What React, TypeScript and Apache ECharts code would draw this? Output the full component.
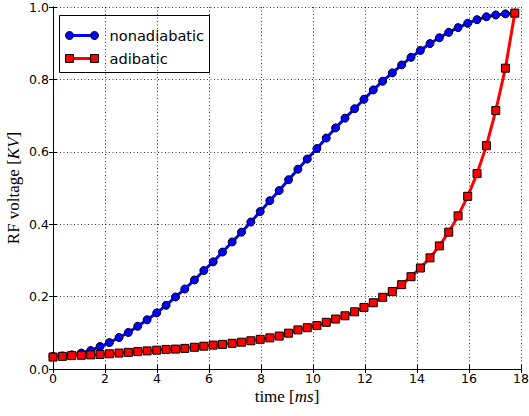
import React, { useEffect, useRef } from "react";
import * as echarts from "echarts";

const time = [
  0, 0.36, 0.72, 1.09, 1.45, 1.81, 2.17, 2.54, 2.9, 3.26,
  3.62, 3.99, 4.35, 4.71, 5.07, 5.44, 5.8, 6.16, 6.52, 6.89,
  7.25, 7.61, 7.97, 8.34, 8.7, 9.06, 9.42, 9.78, 10.15, 10.51,
  10.87, 11.23, 11.6, 11.96, 12.32, 12.68, 13.05, 13.41, 13.77, 14.13,
  14.5, 14.86, 15.22, 15.58, 15.95, 16.31, 16.67, 17.03, 17.4, 17.76,
];

const nonadiabatic = [
  0.035, 0.036, 0.039, 0.044, 0.051, 0.062, 0.073, 0.087, 0.101, 0.118,
  0.136, 0.155, 0.176, 0.199, 0.221, 0.246, 0.272, 0.296, 0.323, 0.351,
  0.378, 0.406, 0.435, 0.465, 0.493, 0.523, 0.552, 0.58, 0.609, 0.638,
  0.666, 0.693, 0.719, 0.745, 0.771, 0.795, 0.818, 0.84, 0.861, 0.88,
  0.899, 0.915, 0.93, 0.943, 0.955, 0.965, 0.973, 0.978, 0.981, 0.983,
];

const adibatic = [
  0.033, 0.035, 0.037, 0.038, 0.039, 0.04, 0.042, 0.044, 0.046, 0.048,
  0.05, 0.052, 0.054, 0.055, 0.057, 0.06, 0.063, 0.066, 0.068, 0.071,
  0.074, 0.078, 0.082, 0.086, 0.091, 0.099, 0.108, 0.114, 0.12, 0.129,
  0.138, 0.147, 0.158, 0.17, 0.183, 0.198, 0.214, 0.233, 0.255, 0.279,
  0.307, 0.34, 0.378, 0.423, 0.477, 0.54, 0.617, 0.714, 0.831, 0.983,
];

const seriesNames = ["nonadiabatic", "adibatic"];

const SANS = "DejaVu Sans";
const SERIF = "Liberation Serif";

export default function App() {
  const ref = useRef<HTMLDivElement>(null);

  useEffect(() => {
    if (!ref.current) return;
    const chart = echarts.init(ref.current, undefined, { renderer: "svg" });

    const axisLine = { show: true, lineStyle: { color: "#000", width: 1 } };
    const tick = { show: true, inside: true, length: 4, lineStyle: { color: "#000", width: 1 } };
    const split = { show: true, lineStyle: { color: "#000", width: 0.8, type: [1, 2.5] as any } };
    const labelStyle = { color: "#000", fontFamily: SANS, fontSize: 12.5 };
    const nameRich = {
      r: { fontFamily: SERIF, fontSize: 17, color: "#000" },
      i: { fontFamily: SERIF, fontSize: 17, fontStyle: "italic", color: "#000" },
    };

    const nonData = time.map((t, i) => [t, nonadiabatic[i]]);
    const adiData = time.map((t, i) => [t, adibatic[i]]);

    chart.setOption({
      animation: false,
      backgroundColor: "#fff",
      grid: { left: 53, right: 8, top: 7, bottom: 47, containLabel: false, outerBoundsMode: "none" },
      xAxis: [
        {
          type: "value",
          min: 0,
          max: 18,
          interval: 2,
          axisLine,
          axisTick: tick,
          splitLine: split,
          axisLabel: { ...labelStyle, margin: 3 },
          name: "{r|time [}{i|ms}{r|]}",
          nameLocation: "middle",
          nameGap: 19,
          nameMoveOverlap: false,
          nameTextStyle: { verticalAlign: "top", rich: nameRich },
        },
        {
          type: "value",
          position: "top",
          min: 0,
          max: 18,
          interval: 2,
          axisLine,
          axisTick: tick,
          splitLine: { show: false },
          axisLabel: { show: false },
        },
      ],
      yAxis: [
        {
          type: "value",
          min: 0,
          max: 1,
          interval: 0.2,
          axisLine,
          axisTick: tick,
          splitLine: split,
          axisLabel: { ...labelStyle, margin: 4, formatter: (v: number) => v.toFixed(1) },
          name: "{r|RF voltage [}{i|KV}{r|]}",
          nameLocation: "middle",
          nameRotate: 90,
          nameGap: 31,
          nameMoveOverlap: false,
          nameTextStyle: { rich: nameRich },
        },
        {
          type: "value",
          position: "right",
          min: 0,
          max: 1,
          interval: 0.2,
          axisLine,
          axisTick: tick,
          splitLine: { show: false },
          axisLabel: { show: false },
        },
      ],
      series: [
        {
          name: seriesNames[0],
          type: "line",
          data: nonData,
          symbol: "circle",
          symbolSize: 8,
          lineStyle: { color: "#0000ff", width: 3 },
          itemStyle: { color: "#0000ff", borderColor: "#000", borderWidth: 1 },
          z: 2,
        },
        {
          name: seriesNames[1],
          type: "line",
          data: adiData,
          symbol: "rect",
          symbolSize: 8,
          lineStyle: { color: "#ff0000", width: 3 },
          itemStyle: { color: "#ff0000", borderColor: "#000", borderWidth: 1 },
          z: 3,
        },
      ],
      graphic: [
        {
          type: "group",
          left: 59,
          top: 15,
          z: 100,
          children: [
            {
              type: "rect",
              shape: { x: 0, y: 0, width: 150, height: 57 },
              style: { fill: "#fff", stroke: "#000", lineWidth: 1 },
            },
            {
              type: "line",
              shape: { x1: 10, y1: 20, x2: 35, y2: 20 },
              style: { stroke: "#0000ff", lineWidth: 3 },
            },
            { type: "circle", shape: { cx: 10, cy: 20, r: 4 }, style: { fill: "#0000ff", stroke: "#000", lineWidth: 1 } },
            { type: "circle", shape: { cx: 35, cy: 20, r: 4 }, style: { fill: "#0000ff", stroke: "#000", lineWidth: 1 } },
            {
              type: "text",
              x: 50,
              y: 20,
              style: { text: seriesNames[0], fontFamily: SANS, fontSize: 14.6, fill: "#000", verticalAlign: "middle" },
            },
            {
              type: "line",
              shape: { x1: 10, y1: 43, x2: 35, y2: 43 },
              style: { stroke: "#ff0000", lineWidth: 3 },
            },
            { type: "rect", shape: { x: 6, y: 39, width: 8, height: 8 }, style: { fill: "#ff0000", stroke: "#000", lineWidth: 1 } },
            { type: "rect", shape: { x: 31, y: 39, width: 8, height: 8 }, style: { fill: "#ff0000", stroke: "#000", lineWidth: 1 } },
            {
              type: "text",
              x: 50,
              y: 43,
              style: { text: seriesNames[1], fontFamily: SANS, fontSize: 14.6, fill: "#000", verticalAlign: "middle" },
            },
          ],
        },
      ],
    });

    return () => chart.dispose();
  }, []);

  return (
    <div
      ref={ref}
      style={{ position: "fixed", left: 0, top: 0, width: 529, height: 416, background: "#fff" }}
    />
  );
}
